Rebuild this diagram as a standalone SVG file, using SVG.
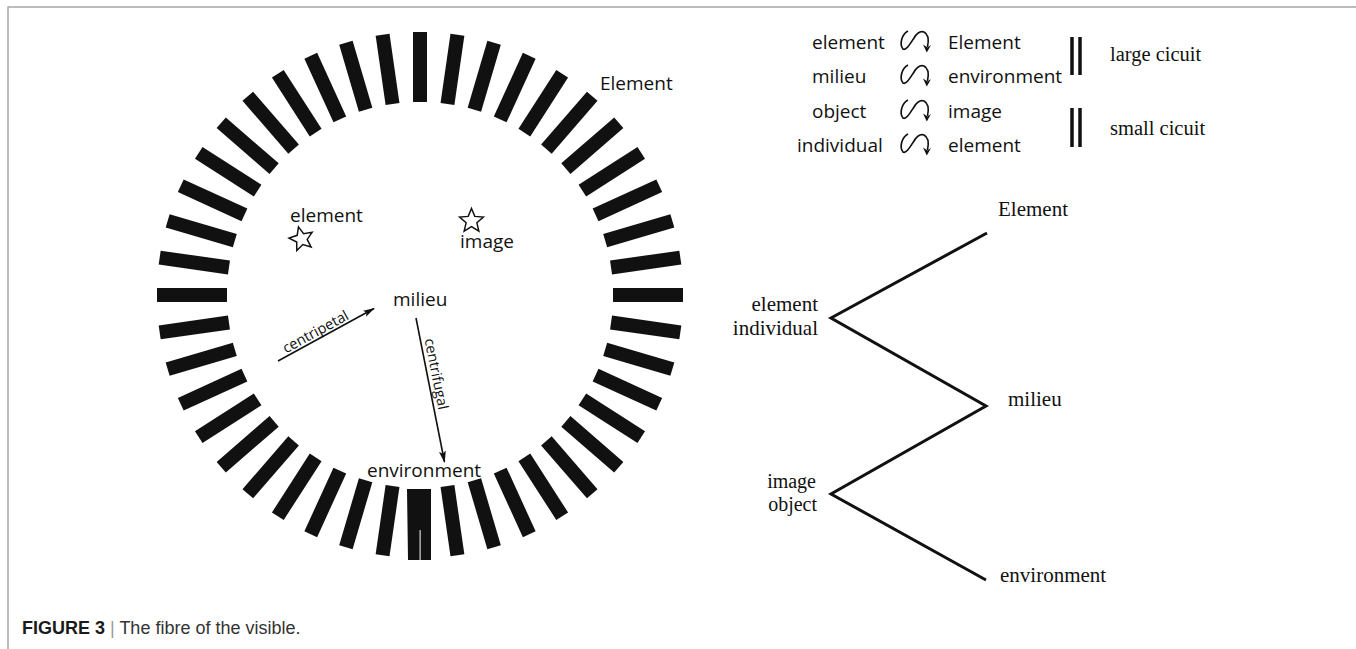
<svg xmlns="http://www.w3.org/2000/svg" xmlns:xlink="http://www.w3.org/1999/xlink" width="1356" height="649" viewBox="0 0 1356 649">
  <style>
    .sans { font-family: "Open Sans", "Liberation Sans", sans-serif; font-size: 19px; fill: #111; }
    .small { font-family: "Open Sans", "Liberation Sans", sans-serif; font-size: 14.5px; fill: #111; }
    .serif { font-family: "Liberation Serif", "DejaVu Serif", serif; font-size: 21px; fill: #111; }
    .serifs { font-family: "Liberation Serif", "DejaVu Serif", serif; font-size: 20px; fill: #111; }
    .serifl { font-family: "Liberation Serif", "DejaVu Serif", serif; font-size: 20.5px; fill: #111; }
    .bar { fill: #111; }
    .star { fill: none; stroke: #111; stroke-width: 1.5; stroke-linejoin: miter; }
    .arrow { stroke: #111; stroke-width: 1.6; fill: none; }
    .zig { stroke: #111; stroke-width: 3; fill: none; stroke-linejoin: miter; }
    .dbl { stroke: #111; stroke-width: 3.5; }
    .frame { stroke: #a6a6a6; stroke-width: 1.5; fill: none; }
    .cap { font-family: "Liberation Sans", Arial, sans-serif; font-size: 18px; fill: #333; }
  </style>
  <defs>
    <rect id="bar" x="413" y="32" width="14" height="70" class="bar"/>
    <path id="star" class="star" d="M0,-12.5 L3.3,-4.6 L11.9,-3.9 L5.4,1.8 L7.35,10.1 L0,5.7 L-7.35,10.1 L-5.4,1.8 L-11.9,-3.9 L-3.3,-4.6 Z"/>
    <g id="loop">
      <path d="M 10 1 C 4 4, 1 14, 5 19 C 8 21, 12 14, 16 8 C 19 3, 23 1, 26 2 C 30 4, 31 10, 29.5 17" fill="none" stroke="#111" stroke-width="1.7"/>
      <path d="M 25 14.5 L 28.8 22.5 L 33 15 L 29.5 17.5 Z" fill="#111"/>
    </g>
    <marker id="head" viewBox="0 0 12 8" refX="11" refY="4" markerWidth="12" markerHeight="8" markerUnits="userSpaceOnUse" orient="auto">
      <path d="M0,0.5 L12,4 L0,7.5 L2.5,4 Z" fill="#111"/>
    </marker>
  </defs>

  <rect width="1356" height="649" fill="#fff"/>

  <!-- panel frame -->
  <path class="frame" d="M8,649 V7 H1356"/>

  <!-- ring of bars -->
  <g id="ring">
    <use xlink:href="#bar" transform="rotate(0 420 295)"/>
    <use xlink:href="#bar" transform="rotate(8.182 420 295)"/>
    <use xlink:href="#bar" transform="rotate(16.364 420 295)"/>
    <use xlink:href="#bar" transform="rotate(24.545 420 295)"/>
    <use xlink:href="#bar" transform="rotate(32.727 420 295)"/>
    <use xlink:href="#bar" transform="rotate(40.909 420 295)"/>
    <use xlink:href="#bar" transform="rotate(49.091 420 295)"/>
    <use xlink:href="#bar" transform="rotate(57.273 420 295)"/>
    <use xlink:href="#bar" transform="rotate(65.455 420 295)"/>
    <use xlink:href="#bar" transform="rotate(73.636 420 295)"/>
    <use xlink:href="#bar" transform="rotate(81.818 420 295)"/>
    <use xlink:href="#bar" transform="rotate(90 420 295)"/>
    <use xlink:href="#bar" transform="rotate(98.182 420 295)"/>
    <use xlink:href="#bar" transform="rotate(106.364 420 295)"/>
    <use xlink:href="#bar" transform="rotate(114.545 420 295)"/>
    <use xlink:href="#bar" transform="rotate(122.727 420 295)"/>
    <use xlink:href="#bar" transform="rotate(130.909 420 295)"/>
    <use xlink:href="#bar" transform="rotate(139.091 420 295)"/>
    <use xlink:href="#bar" transform="rotate(147.273 420 295)"/>
    <use xlink:href="#bar" transform="rotate(155.455 420 295)"/>
    <use xlink:href="#bar" transform="rotate(163.636 420 295)"/>
    <use xlink:href="#bar" transform="rotate(171.818 420 295)"/>
    <!-- doubled bar at the bottom -->
    <path class="bar" d="M407,489 H431 V560 H420.6 V530 H419.6 V560 H408 Z"/>
    <use xlink:href="#bar" transform="rotate(188.182 420 295)"/>
    <use xlink:href="#bar" transform="rotate(196.364 420 295)"/>
    <use xlink:href="#bar" transform="rotate(204.545 420 295)"/>
    <use xlink:href="#bar" transform="rotate(212.727 420 295)"/>
    <use xlink:href="#bar" transform="rotate(220.909 420 295)"/>
    <use xlink:href="#bar" transform="rotate(229.091 420 295)"/>
    <use xlink:href="#bar" transform="rotate(237.273 420 295)"/>
    <use xlink:href="#bar" transform="rotate(245.455 420 295)"/>
    <use xlink:href="#bar" transform="rotate(253.636 420 295)"/>
    <use xlink:href="#bar" transform="rotate(261.818 420 295)"/>
    <use xlink:href="#bar" transform="rotate(270 420 295)"/>
    <use xlink:href="#bar" transform="rotate(278.182 420 295)"/>
    <use xlink:href="#bar" transform="rotate(286.364 420 295)"/>
    <use xlink:href="#bar" transform="rotate(294.545 420 295)"/>
    <use xlink:href="#bar" transform="rotate(302.727 420 295)"/>
    <use xlink:href="#bar" transform="rotate(310.909 420 295)"/>
    <use xlink:href="#bar" transform="rotate(319.091 420 295)"/>
    <use xlink:href="#bar" transform="rotate(327.273 420 295)"/>
    <use xlink:href="#bar" transform="rotate(335.455 420 295)"/>
    <use xlink:href="#bar" transform="rotate(343.636 420 295)"/>
    <use xlink:href="#bar" transform="rotate(351.818 420 295)"/>
  </g>

  <!-- labels inside and around the ring -->
  <g id="ring-Element"><text class="sans" x="600" y="90">Element</text></g>
  <g id="ring-element">
    <text class="sans" x="290" y="222">element</text>
    <use xlink:href="#star" transform="translate(301.5 239) rotate(-14)"/>
  </g>
  <g id="ring-image">
    <use xlink:href="#star" transform="translate(471.5 221)"/>
    <text class="sans" x="460" y="248">image</text>
  </g>
  <g id="ring-milieu"><text class="sans" x="393" y="306">milieu</text></g>
  <g id="ring-environment"><text class="sans" x="367" y="477">environment</text></g>

  <!-- flows between milieu and its surroundings -->
  <g id="connectors">
    <line class="arrow" x1="278" y1="361" x2="374" y2="308.5" marker-end="url(#head)"/>
    <line class="arrow" x1="416" y1="318" x2="444.5" y2="462" marker-end="url(#head)"/>
    <polyline class="zig" points="987,233 831,318 986,406 831,494 986,580"/>
  </g>
  <text class="small" transform="translate(286 353.5) rotate(-28.7)">centripetal</text>
  <text class="small" transform="translate(424.5 339.5) rotate(78.8)">centrifugal</text>

  <!-- legend -->
  <g id="legend">
    <text class="sans" x="812" y="49">element</text>
    <text class="sans" x="812" y="83">milieu</text>
    <text class="sans" x="812" y="118">object</text>
    <text class="sans" x="797" y="152">individual</text>
    <use xlink:href="#loop" transform="translate(898 30)"/>
    <use xlink:href="#loop" transform="translate(898 64)"/>
    <use xlink:href="#loop" transform="translate(898 99)"/>
    <use xlink:href="#loop" transform="translate(898 133)"/>
    <text class="sans" x="948" y="49">Element</text>
    <text class="sans" x="948" y="83">environment</text>
    <text class="sans" x="948" y="118">image</text>
    <text class="sans" x="948" y="152">element</text>
    <line class="dbl" x1="1072" y1="37" x2="1072" y2="75"/>
    <line class="dbl" x1="1080" y1="37" x2="1080" y2="75"/>
    <line class="dbl" x1="1072" y1="108" x2="1072" y2="147"/>
    <line class="dbl" x1="1080" y1="108" x2="1080" y2="147"/>
    <text class="serifl" x="1110" y="61">large cicuit</text>
    <text class="serifl" x="1110" y="135">small cicuit</text>
  </g>

  <!-- zigzag labels -->
  <g id="z-Element"><text class="serif" x="998" y="216">Element</text></g>
  <g id="z-element-individual">
    <text class="serif" x="818" y="311" text-anchor="end">element</text>
    <text class="serif" x="818" y="335" text-anchor="end">individual</text>
  </g>
  <g id="z-milieu"><text class="serif" x="1008" y="406">milieu</text></g>
  <g id="z-image-object">
    <text class="serifs" x="816" y="488" text-anchor="end">image</text>
    <text class="serifs" x="817" y="511" text-anchor="end">object</text>
  </g>
  <g id="z-environment"><text class="serif" x="1000" y="582">environment</text></g>

  <!-- caption -->
  <text class="cap" x="22" y="634"><tspan font-weight="bold" fill="#1a1a1a">FIGURE 3</tspan><tspan fill="#999"> | </tspan><tspan>The fibre of the visible.</tspan></text>
</svg>
